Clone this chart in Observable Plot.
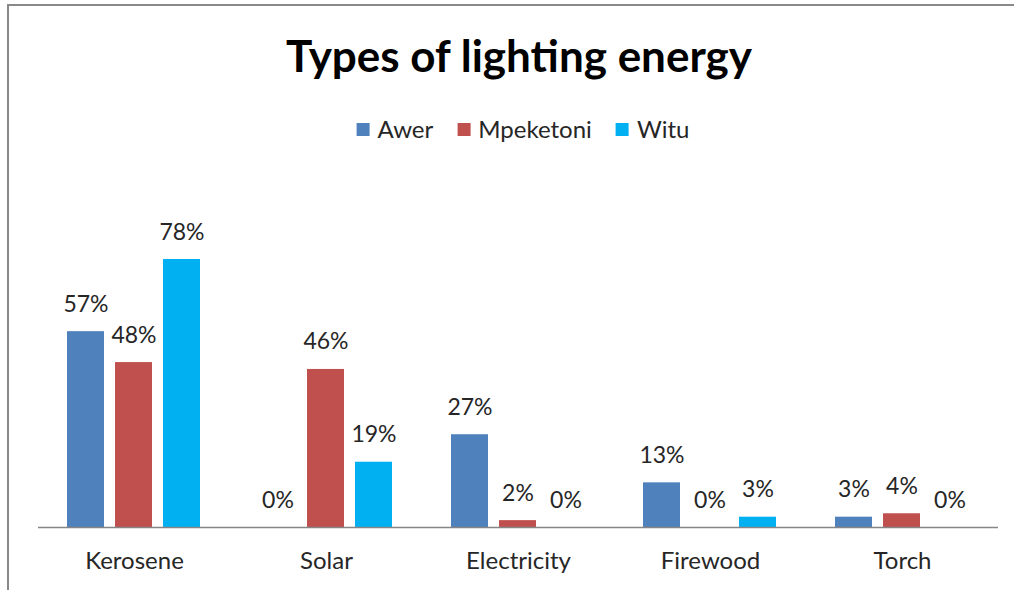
<!DOCTYPE html>
<html>
<head>
<meta charset="utf-8">
<script src="https://cdn.jsdelivr.net/npm/d3@7"></script>
<script src="https://cdn.jsdelivr.net/npm/@observablehq/plot@0.6"></script>
<style>
  html, body { margin: 0; padding: 0; background: #fff; overflow: hidden; }
  #wrap { position: relative; width: 1014px; height: 590px; overflow: hidden; font-family: Lato, "Open Sans", sans-serif; color: #262626; }
  .edge { position: absolute; background: #898989; }
  #edge-top { left: 7px; top: 4px; width: 1007px; height: 2px; }
  #edge-left { left: 7px; top: 4px; width: 2px; height: 586px; }
  #title { position: absolute; top: 33px; left: 519px; transform: translateX(-50%); font-size: 44px; font-weight: 700; line-height: 1; color: #000; white-space: nowrap; }
  #legend { position: absolute; top: 117px; left: 523px; transform: translateX(-50%); display: flex; align-items: center; gap: 24px; font-size: 24px; line-height: 1; white-space: nowrap; }
  #legend .item { display: flex; align-items: center; }
  #legend .sw { width: 13px; height: 13px; margin-right: 8px; }
  #chart { position: absolute; left: 0; top: 150px; }
</style>
</head>
<body>
<div id="wrap">
  <div class="edge" id="edge-top"></div>
  <div class="edge" id="edge-left"></div>
  <div id="title">Types of lighting energy</div>
  <div id="legend"></div>
  <div id="chart"></div>
</div>
<script>
// Share of households by main lighting source, per location (%)
const categories = ["Kerosene", "Solar", "Electricity", "Firewood", "Torch"];
const seriesNames = ["Awer", "Mpeketoni", "Witu"];
const awer = [57, 0, 27, 13, 3];
const mpeketoni = [48, 46, 2, 0, 4];
const witu = [78, 19, 0, 3, 0];
const colors = ["#4F81BD", "#C0504D", "#00B0F0"];

const seriesValues = [awer, mpeketoni, witu];
const rows = categories.flatMap((c, i) =>
  seriesNames.map((s, j) => ({category: c, series: s, value: seriesValues[j][i]}))
);

// legend
const legend = document.getElementById("legend");
seriesNames.forEach((s, j) => {
  const item = document.createElement("div");
  item.className = "item";
  const sw = document.createElement("span");
  sw.className = "sw";
  sw.style.background = colors[j];
  const label = document.createElement("span");
  label.textContent = s;
  item.append(sw, label);
  legend.append(item);
});

const chart = Plot.plot({
  width: 1014,
  height: 440,
  marginLeft: 37,
  marginRight: 15,
  marginTop: 109,
  marginBottom: 63,
  style: {fontFamily: "Lato, 'Open Sans', sans-serif", background: "transparent", color: "#262626"},
  fx: {domain: categories, padding: 0, label: null},
  x: {domain: seriesNames, paddingInner: 0.2245, paddingOuter: 0.576, axis: null},
  y: {domain: [0, 78], axis: null},
  color: {domain: seriesNames, range: colors},
  marks: [
    Plot.barY(rows, {fx: "category", x: "series", y: "value", fill: "series"}),
    Plot.ruleY([0], {stroke: "#868686", strokeWidth: 1.5}),
    Plot.text(rows, {
      fx: "category", x: "series", y: "value",
      text: d => `${d.value}%`,
      lineAnchor: "bottom", dy: -20,
      fontSize: 23, fill: "#262626"
    }),
    Plot.axisFx({
      anchor: "bottom", tickSize: 0, tickPadding: 24, fontSize: 24, label: null, fill: "#262626"
    })
  ]
});
document.getElementById("chart").append(chart);
</script>
</body>
</html>
